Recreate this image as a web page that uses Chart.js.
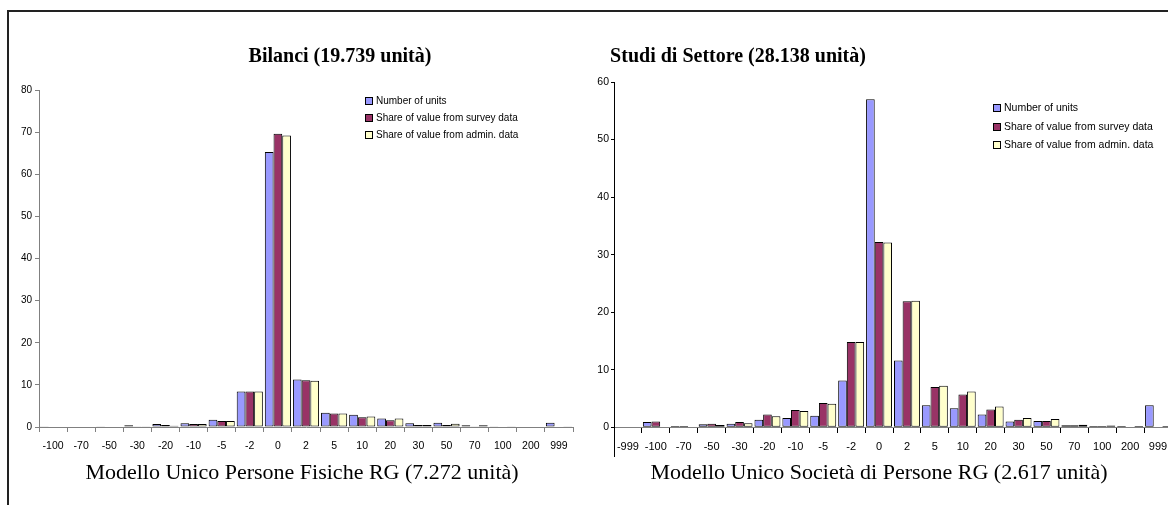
<!DOCTYPE html>
<html>
<head>
<meta charset="utf-8">
<script src="https://cdn.jsdelivr.net/npm/chart.js@4.4.1/dist/chart.umd.min.js"></script>
<style>
    html, body { margin: 0; padding: 0; background: #fff; }
    body { width: 1168px; height: 505px; position: relative; overflow: hidden; }
    .frame { position: absolute; left: 7px; top: 10px; width: 1170px; height: 500px;
             border-top: 2px solid #222; border-left: 2px solid #222; }
    canvas { position: absolute; top: 0; }
    #leftChart { left: 0; }
    #rightChart { left: 580px; }
    .title { position: absolute; transform: translate(-50%, -50%); white-space: nowrap;
             font-family: 'Liberation Serif', 'DejaVu Serif', serif; color: #000; }
    .top { font-size: 20px; font-weight: bold; }
    .bottom { font-size: 22px; }
    .legend { position: absolute; font-family: 'Liberation Sans', Arial, sans-serif; color: #000; }
    .legend div { white-space: nowrap; }
    .legend span { display: inline-block; width: 6px; height: 6px; border: 1px solid #000;
                   margin-right: 3px; vertical-align: -1px; }
</style>
</head>
<body>
<div class="frame"></div>

<canvas id="leftChart" width="590" height="505"></canvas>
<canvas id="rightChart" width="600" height="505"></canvas>

<div class="title top" style="left:340px; top:55px;">Bilanci (19.739 unità)</div>
<div class="title top" style="left:738px; top:55px;">Studi di Settore (28.138 unità)</div>
<div class="title bottom" style="left:302px; top:472px;">Modello Unico Persone Fisiche RG (7.272 unità)</div>
<div class="title bottom" style="left:879px; top:472px;">Modello Unico Società di Persone RG (2.617 unità)</div>

<div class="legend" id="leftLegend" style="left:365px; top:92px; font-size:10px; line-height:17px;"></div>
<div class="legend" id="rightLegend" style="left:993px; top:98px; font-size:10.5px; line-height:18.7px;"></div>

<script>
// ===== 데이터 =====
const seriesLabels = ['Number of units', 'Share of value from survey data', 'Share of value from admin. data'];
const seriesColors = ['#9999ff', '#993366', '#ffffcc'];

// Bilanci
const leftCategories = ['-100', '-70', '-50', '-30', '-20', '-10', '-5', '-2', '0', '2', '5', '10', '20', '30', '50', '70', '100', '200', '999'];
const leftUnits  = [0.2, 0, 0.2, 0.4, 0.7, 0.9, 1.7, 8.4, 65.3, 11.3, 3.4, 2.9, 2.0, 0.9, 1.0, 0.4, 0.2, 0.1, 1.0];
const leftSurvey = [0, 0, 0, 0.2, 0.5, 0.7, 1.4, 8.4, 69.6, 11.1, 3.2, 2.3, 1.6, 0.5, 0.5, 0.2, 0, 0, 0];
const leftAdmin  = [0, 0, 0, 0.2, 0.3, 0.7, 1.4, 8.4, 69.2, 11.0, 3.2, 2.5, 2.0, 0.5, 0.8, 0.4, 0.2, 0.1, 0.2];

// Studi di Settore
const rightCategories = ['-999', '-100', '-70', '-50', '-30', '-20', '-10', '-5', '-2', '0', '2', '5', '10', '20', '30', '50', '70', '100', '200', '999'];
const rightUnits  = [0, 0.9, 0.2, 0.5, 0.6, 1.3, 1.6, 2.0, 8.1, 57.0, 11.6, 3.8, 3.3, 2.2, 1.0, 1.1, 0.35, 0.2, 0.2, 3.8];
const rightSurvey = [0, 1.0, 0.2, 0.6, 0.9, 2.2, 3.0, 4.2, 14.8, 32.2, 21.9, 7.0, 5.7, 3.1, 1.3, 1.1, 0.35, 0.2, 0.1, 0];
const rightAdmin  = [0, 0, 0.1, 0.4, 0.7, 1.9, 2.8, 4.1, 14.8, 32.1, 22.0, 7.2, 6.2, 3.6, 1.6, 1.45, 0.45, 0.3, 0.2, 0.2];

let leftChart = null;
let rightChart = null;

// ===== 초기화 =====
document.addEventListener('DOMContentLoaded', function() {
    buildLegend('leftLegend');
    buildLegend('rightLegend');
    renderLeftChart();
    renderRightChart();
});

function buildLegend(id) {
    const box = document.getElementById(id);
    seriesLabels.forEach((label, i) => {
        const row = document.createElement('div');
        const sq = document.createElement('span');
        sq.style.background = seriesColors[i];
        row.appendChild(sq);
        row.appendChild(document.createTextNode(label));
        box.appendChild(row);
    });
}

function makeDatasets(values) {
    return values.map((data, i) => ({
        label: seriesLabels[i],
        data: data,
        backgroundColor: seriesColors[i],
        borderColor: '#000',
        borderWidth: 1,
        borderSkipped: false,
        categoryPercentage: 0.93,
        barPercentage: 1.0
    }));
}

function renderLeftChart() {
    const ctx = document.getElementById('leftChart').getContext('2d');
    if (leftChart) leftChart.destroy();

    leftChart = new Chart(ctx, {
        type: 'bar',
        data: {
            labels: leftCategories,
            datasets: makeDatasets([leftUnits, leftSurvey, leftAdmin])
        },
        options: {
            responsive: false,
            animation: false,
            layout: { padding: { left: 9, top: 90, right: 17, bottom: 0 } },
            plugins: { legend: { display: false }, tooltip: { enabled: false } },
            scales: {
                x: {
                    grid: { drawOnChartArea: false, tickLength: 5, color: '#808080' },
                    border: { color: '#808080' },
                    ticks: { color: '#000', padding: 8, maxRotation: 0, autoSkip: false,
                             font: { family: 'Liberation Sans', size: 10.5 } },
                    afterFit: s => { s.height = 78; }
                },
                y: {
                    min: 0,
                    max: 80,
                    ticks: { stepSize: 10, color: '#000', padding: 3,
                             font: { family: 'Liberation Sans', size: 10 } },
                    grid: { drawOnChartArea: false, tickLength: 4, color: '#808080' },
                    border: { color: '#808080' },
                    afterFit: s => { s.width = 30; }
                }
            }
        }
    });
}

function renderRightChart() {
    const ctx = document.getElementById('rightChart').getContext('2d');
    if (rightChart) rightChart.destroy();

    rightChart = new Chart(ctx, {
        type: 'bar',
        data: {
            labels: rightCategories,
            datasets: makeDatasets([rightUnits, rightSurvey, rightAdmin])
        },
        options: {
            responsive: false,
            animation: false,
            layout: { padding: { left: 12, top: 82, right: 8, bottom: 49 } },
            plugins: { legend: { display: false }, tooltip: { enabled: false } },
            scales: {
                x: {
                    // 축을 0 위치에 배치 (y 최소값은 -5)
                    position: { y: 0 },
                    grid: { drawOnChartArea: false, tickLength: 5, color: '#000' },
                    border: { color: '#808080' },
                    ticks: { color: '#000', padding: 8, maxRotation: 0, autoSkip: false,
                             font: { family: 'Liberation Sans', size: 11 } }
                },
                y: {
                    min: -5,
                    max: 60,
                    ticks: { stepSize: 10, color: '#000', padding: 2,
                             font: { family: 'Liberation Sans', size: 10.5 } },
                    afterBuildTicks: s => { s.ticks = s.ticks.filter(t => t.value >= 0); },
                    grid: { drawOnChartArea: false, tickLength: 3, color: '#000' },
                    border: { color: '#000' },
                    afterFit: s => { s.width = 22; }
                }
            }
        }
    });
}
</script>
</body>
</html>
